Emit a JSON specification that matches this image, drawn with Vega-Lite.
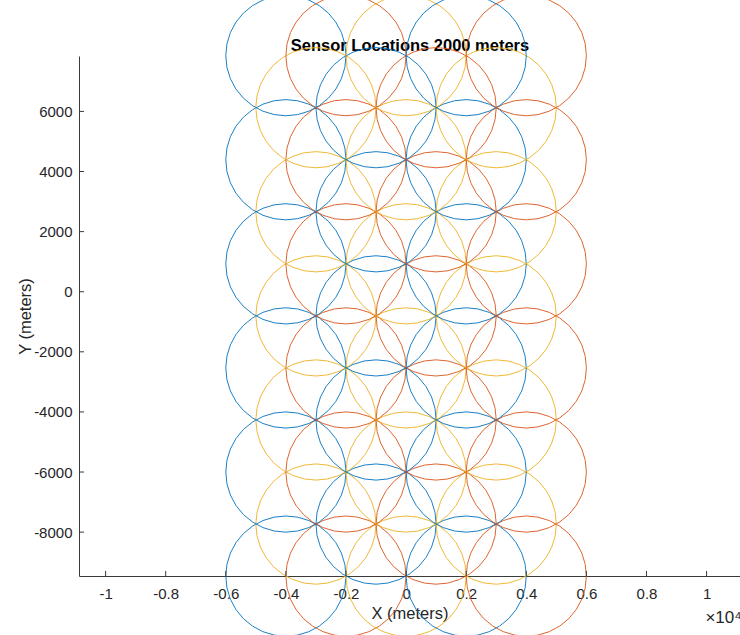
{
  "$schema": "https://vega.github.io/schema/vega-lite/v6.json",
  "width": 661,
  "height": 520,
  "autosize": {"type": "none"},
  "padding": {"left": 79, "top": 56, "right": 0, "bottom": 59},
  "background": "white",
  "config": {
    "view": {"stroke": null},
    "axis": {
      "grid": false,
      "ticks": false,
      "domainColor": "#3a3a3a",
      "domainWidth": 1,
      "labelFont": "Liberation Sans",
      "labelFontSize": 15,
      "labelColor": "#262626",
      "labelFlush": false,
      "labelOverlap": false,
      "labelBound": false,
      "titleFont": "Liberation Sans",
      "titleFontSize": 16.5,
      "titleFontWeight": "normal",
      "titleColor": "#262626"
    }
  },
  "resolve": {"axis": {"x": "independent"}},
  "layer": [
    {
      "data": {
        "values": [
          {"x": -4000, "y": -9464.1, "g": "B"}, {"x": -2000, "y": -9464.1, "g": "R"}, {"x": 0, "y": -9464.1, "g": "Y"}, {"x": 2000, "y": -9464.1, "g": "B"}, {"x": 4000, "y": -9464.1, "g": "R"},
          {"x": -3000, "y": -7732.05, "g": "Y"}, {"x": -1000, "y": -7732.05, "g": "B"}, {"x": 1000, "y": -7732.05, "g": "R"}, {"x": 3000, "y": -7732.05, "g": "Y"},
          {"x": -4000, "y": -6000, "g": "B"}, {"x": -2000, "y": -6000, "g": "R"}, {"x": 0, "y": -6000, "g": "Y"}, {"x": 2000, "y": -6000, "g": "B"}, {"x": 4000, "y": -6000, "g": "R"},
          {"x": -3000, "y": -4267.95, "g": "Y"}, {"x": -1000, "y": -4267.95, "g": "B"}, {"x": 1000, "y": -4267.95, "g": "R"}, {"x": 3000, "y": -4267.95, "g": "Y"},
          {"x": -4000, "y": -2535.9, "g": "B"}, {"x": -2000, "y": -2535.9, "g": "R"}, {"x": 0, "y": -2535.9, "g": "Y"}, {"x": 2000, "y": -2535.9, "g": "B"}, {"x": 4000, "y": -2535.9, "g": "R"},
          {"x": -3000, "y": -803.85, "g": "Y"}, {"x": -1000, "y": -803.85, "g": "B"}, {"x": 1000, "y": -803.85, "g": "R"}, {"x": 3000, "y": -803.85, "g": "Y"},
          {"x": -4000, "y": 928.2, "g": "B"}, {"x": -2000, "y": 928.2, "g": "R"}, {"x": 0, "y": 928.2, "g": "Y"}, {"x": 2000, "y": 928.2, "g": "B"}, {"x": 4000, "y": 928.2, "g": "R"},
          {"x": -3000, "y": 2660.25, "g": "Y"}, {"x": -1000, "y": 2660.25, "g": "B"}, {"x": 1000, "y": 2660.25, "g": "R"}, {"x": 3000, "y": 2660.25, "g": "Y"},
          {"x": -4000, "y": 4392.3, "g": "B"}, {"x": -2000, "y": 4392.3, "g": "R"}, {"x": 0, "y": 4392.3, "g": "Y"}, {"x": 2000, "y": 4392.3, "g": "B"}, {"x": 4000, "y": 4392.3, "g": "R"},
          {"x": -3000, "y": 6124.35, "g": "Y"}, {"x": -1000, "y": 6124.35, "g": "B"}, {"x": 1000, "y": 6124.35, "g": "R"}, {"x": 3000, "y": 6124.35, "g": "Y"},
          {"x": -4000, "y": 7856.4, "g": "B"}, {"x": -2000, "y": 7856.4, "g": "R"}, {"x": 0, "y": 7856.4, "g": "Y"}, {"x": 2000, "y": 7856.4, "g": "B"}, {"x": 4000, "y": 7856.4, "g": "R"}
        ]
      },
      "mark": {"type": "point", "shape": "circle", "filled": false, "size": 14448, "strokeWidth": 0.9, "opacity": 1, "clip": false},
      "encoding": {
        "x": {
          "field": "x", "type": "quantitative",
          "scale": {"domain": [-10885, 11112], "nice": false, "zero": false},
          "axis": {
            "orient": "bottom",
            "values": [-10000, -8000, -6000, -4000, -2000, 0, 2000, 4000, 6000, 8000, 10000],
            "labelExpr": "'' + (datum.value / 10000)",
            "labelPadding": 10,
            "title": "X (meters)",
            "titlePadding": 4
          }
        },
        "y": {
          "field": "y", "type": "quantitative",
          "scale": {"domain": [-9460, 7844], "nice": false, "zero": false},
          "axis": {
            "values": [-8000, -6000, -4000, -2000, 0, 2000, 4000, 6000],
            "labelExpr": "'' + datum.value",
            "labelPadding": 7,
            "title": "Y (meters)",
            "titlePadding": 0
          }
        },
        "stroke": {
          "field": "g", "type": "nominal",
          "scale": {"domain": ["B", "R", "Y"], "range": ["#0072BD", "#D95319", "#EDB120"]},
          "legend": null
        }
      }
    },
    {
      "data": {"values": [{"t": -10000}, {"t": -8000}, {"t": -6000}, {"t": -4000}, {"t": -2000}, {"t": 0}, {"t": 2000}, {"t": 4000}, {"t": 6000}, {"t": 8000}, {"t": 10000}]},
      "mark": {"type": "rule", "color": "#3a3a3a", "strokeWidth": 1},
      "encoding": {
        "x": {"field": "t", "type": "quantitative", "axis": null},
        "y": {"datum": -9460, "type": "quantitative"},
        "y2": {"datum": -9293}
      }
    },
    {
      "data": {"values": [{"t": -8000}, {"t": -6000}, {"t": -4000}, {"t": -2000}, {"t": 0}, {"t": 2000}, {"t": 4000}, {"t": 6000}]},
      "mark": {"type": "rule", "color": "#3a3a3a", "strokeWidth": 1},
      "encoding": {
        "y": {"field": "t", "type": "quantitative"},
        "x": {"datum": -10885, "type": "quantitative", "axis": null},
        "x2": {"datum": -10718}
      }
    },
    {
      "data": {"values": [{"label": "×10⁴"}]},
      "mark": {"type": "text", "align": "left", "baseline": "alphabetic", "font": "Liberation Sans", "fontSize": 17, "color": "#262626", "clip": false},
      "encoding": {
        "x": {
          "datum": 9960, "type": "quantitative",
          "axis": {
            "orient": "top",
            "domain": false,
            "ticks": false,
            "labels": false,
            "title": "Sensor Locations 2000 meters",
            "titleFontWeight": "bold",
            "titleColor": "#000000",
            "titleBaseline": "alphabetic",
            "titlePadding": 6
          }
        },
        "y": {"datum": -11028, "type": "quantitative"},
        "text": {"field": "label"}
      }
    }
  ]
}
